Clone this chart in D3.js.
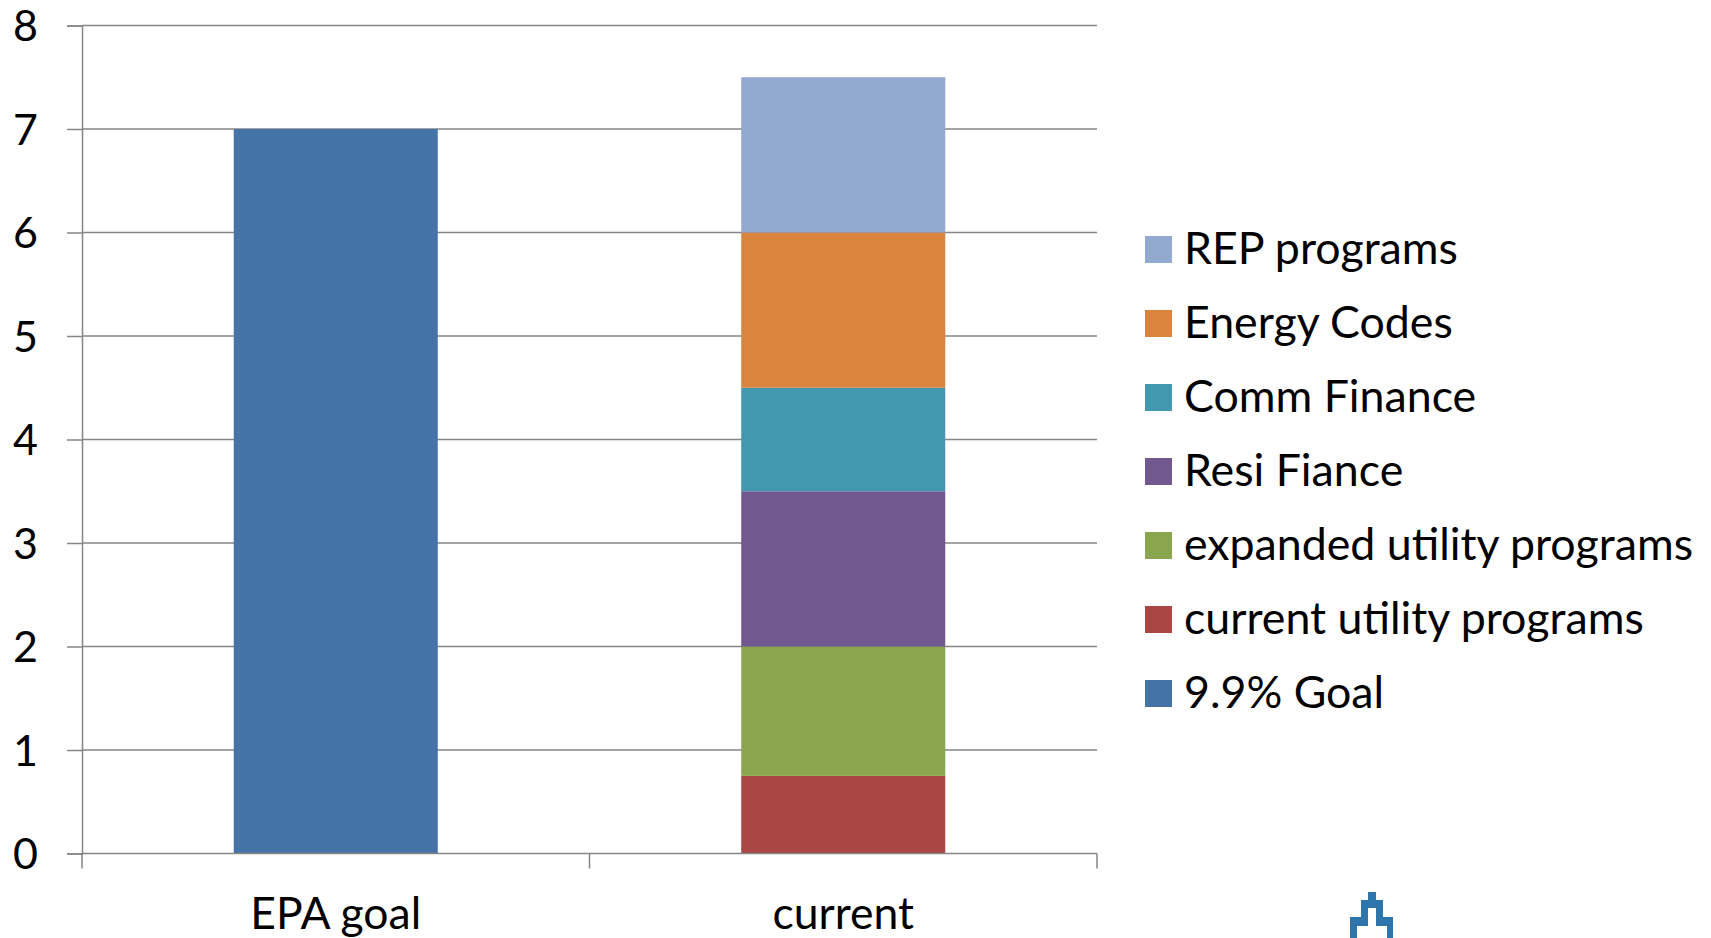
<!DOCTYPE html>
<html>
<head>
<meta charset="utf-8">
<script src="https://cdn.jsdelivr.net/npm/d3@7/dist/d3.min.js"></script>
<style>
html, body { margin: 0; padding: 0; background: #fff; }
svg { display: block; }
text { font-family: Lato, "Open Sans", sans-serif; fill: #000; }
</style>
</head>
<body>
<svg id="chart" width="1711" height="938"></svg>
<script>
// Scenarios along the horizontal axis
const categories = ["EPA goal", "current"];
// Stack order is bottom to top
const seriesNames = ["9.9% Goal", "current utility programs", "expanded utility programs", "Resi Fiance", "Comm Finance", "Energy Codes", "REP programs"];
const goalValues = [7, 0];
const currentUtilityValues = [0, 0.75];
const expandedUtilityValues = [0, 1.25];
const resiFinanceValues = [0, 1.5];
const commFinanceValues = [0, 1];
const energyCodesValues = [0, 1.5];
const repProgramValues = [0, 1.5];
const seriesColors = ["#4573a7", "#aa4644", "#89a54e", "#71588f", "#4298af", "#db843d", "#93a9cf"];
const yTicks = [0, 1, 2, 3, 4, 5, 6, 7, 8];

const seriesValues = [goalValues, currentUtilityValues, expandedUtilityValues, resiFinanceValues, commFinanceValues, energyCodesValues, repProgramValues];

const svg = d3.select("#chart");
const plot = { left: 82, right: 1097, top: 25.5, bottom: 853.5 };
const axisColor = "#868686";

const x = d3.scaleBand().domain(categories).range([plot.left, plot.right]).paddingInner(0).paddingOuter(0);
const y = d3.scaleLinear().domain([0, 8]).range([plot.bottom, plot.top]);
const barWidth = x.bandwidth() * 0.402;

// Gridlines sit behind the bars
svg.append("g").selectAll("line").data(yTicks.filter(d => d > 0)).join("line")
  .attr("x1", plot.left).attr("x2", plot.right)
  .attr("y1", d => y(d)).attr("y2", d => y(d))
  .attr("stroke", axisColor).attr("stroke-width", 1.5);

// Stacked bars
const rows = categories.map((c, i) => {
  const row = { category: c };
  seriesNames.forEach((s, j) => { row[s] = seriesValues[j][i]; });
  return row;
});
const stacked = d3.stack().keys(seriesNames)(rows);
const barGroups = svg.append("g").selectAll("g").data(stacked).join("g")
  .attr("fill", (d, i) => seriesColors[i]);
barGroups.selectAll("rect").data(d => d.filter(p => p[1] > p[0])).join("rect")
  .attr("x", d => x(d.data.category) + (x.bandwidth() - barWidth) / 2)
  .attr("width", barWidth)
  .attr("y", d => y(d[1]))
  .attr("height", d => y(d[0]) - y(d[1]));

// Value axis
const yAxis = svg.append("g")
  .attr("transform", `translate(${plot.left},0)`)
  .call(d3.axisLeft(y).tickValues(yTicks).tickFormat(d3.format("d")).tickSize(15).tickPadding(29));
yAxis.select(".domain").attr("stroke", axisColor).attr("stroke-width", 1.5);
yAxis.selectAll(".tick line").attr("stroke", axisColor).attr("stroke-width", 1.5);
yAxis.selectAll("text").style("font-size", "43px").attr("dy", "0.36em").style("font-family", "Lato, sans-serif").attr("fill", "#000");

// Category axis: ticks fall on the band edges, labels at the band centres
const xAxisGroup = svg.append("g").attr("transform", `translate(0,${plot.bottom})`);
xAxisGroup.append("line")
  .attr("x1", plot.left).attr("x2", plot.right)
  .attr("stroke", axisColor).attr("stroke-width", 1.5);
const edges = categories.map(c => x(c)).concat(plot.right);
xAxisGroup.selectAll(".edge").data(edges).join("line").attr("class", "edge")
  .attr("x1", d => d).attr("x2", d => d).attr("y1", 0).attr("y2", 15)
  .attr("stroke", axisColor).attr("stroke-width", 1.5);
xAxisGroup.selectAll("text").data(categories).join("text")
  .attr("x", d => x(d) + x.bandwidth() / 2)
  .attr("y", 75.5)
  .attr("text-anchor", "middle")
  .style("font-size", "44.5px")
  .text(d => d);

// Legend lists the series from the top of the stack down
const legendOrder = seriesNames.map((s, i) => ({ name: s, color: seriesColors[i] })).reverse();
const legendY = d3.scalePoint().domain(legendOrder.map(d => d.name)).range([249.5, 693.5]);
const legend = svg.append("g").selectAll("g").data(legendOrder).join("g")
  .attr("transform", d => `translate(1145,${legendY(d.name)})`);
legend.append("rect").attr("x", 0).attr("y", -13.5).attr("width", 27).attr("height", 27)
  .attr("fill", d => d.color);
legend.append("text").attr("x", 39).attr("y", 14.5).style("font-size", "44.7px").text(d => d.name);

// Stepped emblem clipped by the lower edge of the page
svg.append("path")
  .attr("d", "M1350,938 V917 H1361 V900 H1368 V892 H1376 V900 H1383 V917 H1393 V938 H1387 V926 H1376 V908 H1368 V926 H1357 V938 Z")
  .attr("fill", "#2e75ab");
</script>
</body>
</html>
